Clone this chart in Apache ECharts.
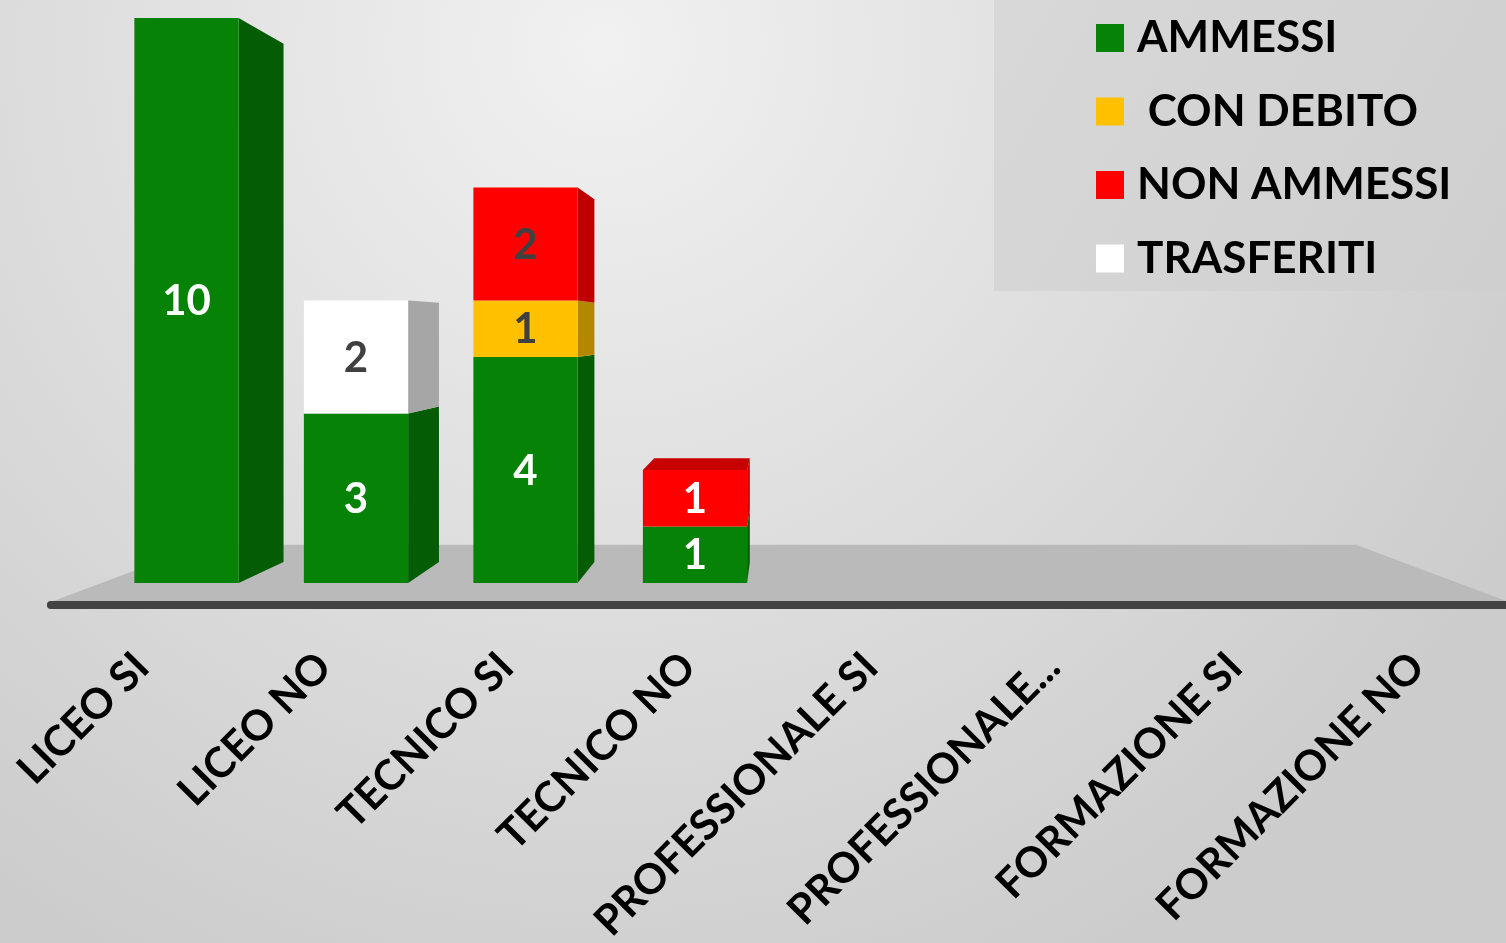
<!DOCTYPE html>
<html>
<head>
<meta charset="utf-8">
<script src="https://cdn.jsdelivr.net/npm/echarts@6/dist/echarts.min.js"></script>
<style>
html,body{margin:0;padding:0;}
#chart{width:1506px;height:943px;}
</style>
</head>
<body>
<div id="chart"></div>
<script>
// ---- data ----
const categories = ['LICEO SI','LICEO NO','TECNICO SI','TECNICO NO','PROFESSIONALE SI','PROFESSIONALE NO','FORMAZIONE SI','FORMAZIONE NO'];
const tickLabels = ['LICEO SI','LICEO NO','TECNICO SI','TECNICO NO','PROFESSIONALE SI','PROFESSIONALE...','FORMAZIONE SI','FORMAZIONE NO'];
const seriesNames = ['AMMESSI',' CON DEBITO','NON AMMESSI','TRASFERITI'];
const ammessi    = [10, 3, 4, 1, 0, 0, 0, 0];
const conDebito  = [0, 0, 1, 0, 0, 0, 0, 0];
const nonAmmessi = [0, 0, 2, 1, 0, 0, 0, 0];
const trasferiti = [0, 2, 0, 0, 0, 0, 0, 0];

// ---- styles ----
const frontColors = ['#068306', '#ffc000', '#ff0000', '#ffffff'];
const sideColors  = ['#045c04', '#b38700', '#c00000', '#a6a6a6'];
const topColors   = ['#046e04', '#d9a300', '#c80000', '#d9d9d9'];
const labelColors = ['#ffffff', '#404040', '#ffffff', '#404040'];
const darkLabelOverrides = {'2|2': '#404040'}; // series|category
const FONT = 'Lato, "Open Sans", sans-serif';
const BAR_RATIO = 0.615;
const DEPTH = 0.083;
const VPX = 0.5, VPY = 0.55;
const FLOOR_FRONT = -0.075, FLOOR_BACK = 0.15;

const GRID = {left: 101.75, width: 1356, top: 18, height: 565};
const vpAbsX = GRID.left + GRID.width * VPX;
const scaleFront = 1 - FLOOR_FRONT;
const GRID2 = {left: vpAbsX - (vpAbsX - GRID.left) * scaleFront, width: GRID.width * scaleFront, top: 18, height: 584};

const seriesValues = [ammessi, conDebito, nonAmmessi, trasferiti];
const totals = categories.map((_, i) => seriesValues.reduce((s, arr) => s + arr[i], 0));

function project(p, vp, d) {
  return [p[0] + d * (vp[0] - p[0]), p[1] + d * (vp[1] - p[1])];
}

function makeRender(sIdx) {
  return function (params, api) {
    const i = api.value(0), base = api.value(1), top = api.value(2);
    if (top - base <= 0) return null;
    const cs = params.coordSys;
    const vp = [cs.x + cs.width * VPX, cs.y + cs.height * VPY];
    const w = api.size([1, 0])[0] * BAR_RATIO;
    const cb = api.coord([i, base]);
    const ct = api.coord([i, top]);
    const x0 = cb[0] - w / 2, x1 = cb[0] + w / 2, yb = cb[1], yt = ct[1];
    const children = [];
    if (x1 < vp[0]) {
      children.push({type: 'polygon', shape: {points: [[x1, yt], [x1, yb], project([x1, yb], vp, DEPTH), project([x1, yt], vp, DEPTH)]},
        style: {fill: sideColors[sIdx]}});
    }
    if (x0 > vp[0]) {
      children.push({type: 'polygon', shape: {points: [[x0, yt], [x0, yb], project([x0, yb], vp, DEPTH), project([x0, yt], vp, DEPTH)]},
        style: {fill: sideColors[sIdx]}});
    }
    const isTop = Math.abs(top - totals[i]) < 1e-9;
    if (isTop && yt > vp[1]) {
      children.push({type: 'polygon', shape: {points: [[x0, yt], [x1, yt], project([x1, yt], vp, DEPTH), project([x0, yt], vp, DEPTH)]},
        style: {fill: topColors[sIdx]}});
    }
    children.push({type: 'rect', shape: {x: x0, y: yt, width: w, height: yb - yt}, style: {fill: frontColors[sIdx]}});
    const lc = darkLabelOverrides[sIdx + '|' + i] || labelColors[sIdx];
    children.push({type: 'text', style: {text: String(top - base), x: cb[0], y: (yt + yb) / 2 + 1,
      align: 'center', verticalAlign: 'middle', fill: lc, fontSize: 42, fontWeight: 'bold', fontFamily: FONT}});
    return {type: 'group', children};
  };
}

function floorRender(params, api) {
  const cs = params.coordSys;
  const vp = [cs.x + cs.width * VPX, cs.y + cs.height * VPY];
  const y0 = api.coord([0, 0])[1];
  const xl = cs.x, xr = cs.x + cs.width;
  const fl = project([xl, y0], vp, FLOOR_FRONT), fr = project([xr, y0], vp, FLOOR_FRONT);
  const bl = project([xl, y0], vp, FLOOR_BACK), br = project([xr, y0], vp, FLOOR_BACK);
  return {type: 'group', children: [
    {type: 'polygon', shape: {points: [fl, fr, br, bl]}, style: {fill: '#bababa'}},
    {type: 'line', shape: {x1: fl[0], y1: fl[1] + 3, x2: fr[0] + 10, y2: fr[1] + 3}, style: {stroke: '#434343', lineWidth: 8, lineCap: 'round'}}
  ]};
}

const series = [{
  type: 'custom', name: 'floor', renderItem: floorRender, data: [[0, 0, 0]], silent: true, z: 1, clip: false,
  encode: {x: 0, y: 1}
}];
let cum = categories.map(() => 0);
seriesValues.forEach((vals, s) => {
  const data = vals.map((v, i) => [i, cum[i], cum[i] + v]);
  cum = cum.map((c, i) => c + vals[i]);
  series.push({
    type: 'custom', name: seriesNames[s], renderItem: makeRender(s), data: data, z: 2, clip: false,
    itemStyle: {color: frontColors[s]}, encode: {x: 0, y: [1, 2]}
  });
});

const chart = echarts.init(document.getElementById('chart'), null, {renderer: 'canvas'});
chart.setOption({
  animation: false,
  backgroundColor: {
    type: 'radial', x: 0.4, y: 0.05, r: 1.1,
    colorStops: [{offset: 0, color: '#f1f1f1'}, {offset: 1, color: '#cccccc'}]
  },
  graphic: [{
    type: 'rect', left: 994, top: 0, shape: {width: 512, height: 291}, z: -1,
    style: {fill: {type: 'linear', x: 0, y: 0, x2: 1, y2: 1, colorStops: [{offset: 0, color: '#d8d8d8'}, {offset: 1, color: '#cfcfcf'}]}}
  }],
  legend: {
    data: seriesNames, orient: 'vertical', left: 1096, top: 16, padding: 0,
    icon: 'rect', itemWidth: 28, itemHeight: 28, itemGap: 29.5,
    textStyle: {fontSize: 44, fontWeight: 'bold', fontFamily: FONT, color: '#000', lineHeight: 40, padding: [0, 0, 0, 8]}
  },
  grid: [
    Object.assign({containLabel: false, outerBoundsMode: 'none'}, GRID),
    Object.assign({containLabel: false, outerBoundsMode: 'none'}, GRID2)
  ],
  xAxis: [{
    type: 'category', data: categories, gridIndex: 0,
    axisLine: {show: false}, axisTick: {show: false}, splitLine: {show: false}, axisLabel: {show: false}
  }, {
    type: 'category', data: categories, gridIndex: 1,
    axisLine: {show: false}, axisTick: {show: false}, splitLine: {show: false},
    axisLabel: {
      interval: 0, rotate: 45, margin: 58, padding: [41, 0, 0, 0],
      fontSize: 42, fontWeight: 'bold', fontFamily: FONT, color: '#000',
      formatter: (v, idx) => tickLabels[idx]
    }
  }],
  yAxis: [
    {type: 'value', min: 0, max: 10, show: false, splitLine: {show: false}, gridIndex: 0},
    {type: 'value', min: 0, max: 10, show: false, splitLine: {show: false}, gridIndex: 1}
  ],
  series: series
});
</script>
</body>
</html>
